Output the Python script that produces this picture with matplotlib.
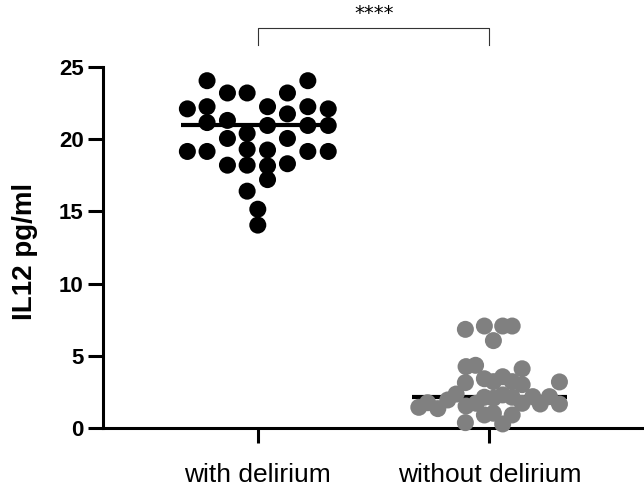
import numpy as np
import matplotlib
matplotlib.use("Agg")
import matplotlib.pyplot as plt

plt.rcParams['font.family'] = ['Liberation Sans', 'DejaVu Sans']

categories = ["with delirium", "without delirium"]

# IL12 concentrations (pg/ml) per patient
with_delirium = [24.05, 24.05, 23.2, 23.2, 23.2, 22.1, 22.25, 22.25, 22.25, 22.1,
                 21.75, 21.15, 21.3, 20.95, 20.95, 20.95, 20.4, 20.05, 20.05,
                 19.15, 19.15, 19.3, 19.25, 19.15, 19.15, 18.2, 18.2, 18.15, 18.3,
                 17.2, 16.4, 15.15, 14.05]
with_offsets = [-0.219, 0.216, -0.131, -0.046, 0.128, -0.304, -0.219, 0.042, 0.216, 0.304,
                0.128, -0.219, -0.131, 0.042, 0.216, 0.304, -0.046, -0.131, 0.128,
                -0.304, -0.219, -0.046, 0.042, 0.216, 0.304, -0.131, -0.046, 0.042, 0.128,
                0.042, -0.046, 0.0, 0.0]

without_delirium = [6.83, 7.06, 7.06, 7.06, 6.05, 4.25, 4.34, 4.1, 3.14, 3.41,
                    3.21, 3.55, 3.21, 3.0, 3.19, 2.35, 1.94, 1.75, 1.43, 1.34,
                    1.52, 2.13, 2.06, 2.29, 2.13, 1.71, 2.17, 1.66, 2.17, 1.66,
                    1.71, 0.9, 1.02, 0.9, 0.37, 0.28]
without_offsets = [-0.104, -0.022, 0.057, 0.098, 0.017, -0.101, -0.060, 0.141, -0.104, -0.022,
                   0.017, 0.057, 0.098, 0.141, 0.302, -0.144, -0.180, -0.267, -0.305, -0.223,
                   -0.101, -0.022, 0.017, 0.057, 0.098, 0.141, 0.187, 0.219, 0.259, 0.302,
                   -0.057, -0.022, 0.017, 0.098, -0.104, 0.057]

# horizontal summary line for each group (pg/ml)
summary_lines = [20.95, 2.17]

yticks = [0, 5, 10, 15, 20, 25]
significance = "****"

groups = [with_delirium, without_delirium]
offsets = [with_offsets, without_offsets]
colors = ["#000000", "#808080"]

fig = plt.figure(figsize=(6.44, 4.98), dpi=100)
ax = fig.add_axes([0.16, 0.1406, 0.84, 0.7249])

for i, (vals, offs, col, level) in enumerate(zip(groups, offsets, colors, summary_lines)):
    x = i + np.asarray(offs)
    ax.plot([i - 0.333, i + 0.333], [level, level], color="black", lw=3.0,
            solid_capstyle="butt", zorder=2, clip_on=False)
    ax.scatter(x, vals, s=150, color=col, edgecolors="none", zorder=3, clip_on=False)

ax.set_xlim(-0.668, 1.667)
ax.set_ylim(0, 25)
ax.set_xticks([0, 1])
ax.set_xticklabels(categories, fontsize=19)
ax.set_yticks(yticks)
ax.set_yticklabels([str(t) for t in yticks], fontsize=16, fontweight="bold")
ax.set_ylabel("IL12 pg/ml", fontsize=20, fontweight="bold")
ax.yaxis.set_label_coords(-0.12, 0.49)

for side in ("top", "right"):
    ax.spines[side].set_visible(False)
for side in ("left", "bottom"):
    ax.spines[side].set_linewidth(2.2)
ax.tick_params(axis="both", width=2.2, length=11, color="black")
ax.tick_params(axis="y", pad=3)
ax.tick_params(axis="x", pad=14)

# significance bracket between the two groups
y_top, y_leg = 27.7, 26.5
ax.plot([0, 0, 1, 1], [y_leg, y_top, y_top, y_leg], color="#333333", lw=0.8, clip_on=False)
ax.text(0.5, y_top + 0.35, significance, ha="center", va="bottom", fontsize=14,
        family="DejaVu Sans", clip_on=False)

fig.savefig("out.png", dpi=100)
